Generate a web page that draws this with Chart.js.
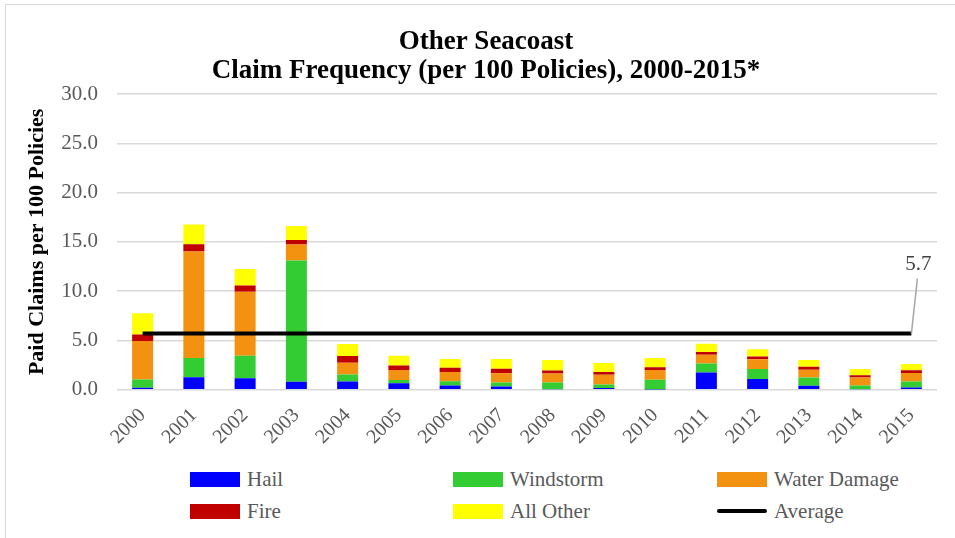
<!DOCTYPE html>
<html lang="en">
<head>
  <meta charset="UTF-8" />
  <title>Other Seacoast Claim Frequency</title>
  <style>
    body {
      margin: 0;
      background: #fff;
      font-family: "Liberation Serif", "Times New Roman", serif;
    }

    .frame {
      position: absolute;
      left: 5px;
      top: 4px;
      width: 960px;
      height: 545px;
      border: 1px solid #d9d9d9;
    }

    .chart-box {
      position: absolute;
      left: 0;
      top: 0;
      width: 955px;
      height: 455px;
    }

    #legend {
      position: absolute;
      left: 190px;
      top: 468px;
      display: grid;
      grid-template-columns: 263px 264px 200px;
      row-gap: 10px;
      color: #595959;
      font-size: 21px;
    }

    .item {
      display: flex;
      align-items: center;
      height: 22px;
    }

    .swatch {
      width: 50px;
      height: 15px;
      margin-right: 7px;
    }

    .swatch.line {
      height: 4px;
      border-radius: 2px;
    }
  </style>
  <script src="https://cdn.jsdelivr.net/npm/chart.js"></script>
</head>
<body>
  <div class="frame"></div>
  <div class="chart-box"><canvas id="chart"></canvas></div>
  <div id="legend"></div>

  <script>
    const years = ['2000', '2001', '2002', '2003', '2004', '2005', '2006', '2007',
                   '2008', '2009', '2010', '2011', '2012', '2013', '2014', '2015'];
    const hail = [0.2, 1.28, 1.17, 0.8, 0.84, 0.67, 0.44, 0.34, 0.05, 0.17, 0.02, 1.74, 1.1, 0.4, 0.05, 0.23];
    const windstorm = [0.85, 1.94, 2.29, 12.3, 0.7, 0.33, 0.43, 0.4, 0.69, 0.37, 0.99, 0.91, 1.01, 0.84, 0.39, 0.61];
    const waterDamage = [3.9, 10.8, 6.47, 1.64, 1.21, 1.0, 0.94, 0.94, 0.9, 0.97, 1.0, 0.91, 0.98, 0.8, 0.8, 0.87];
    const fire = [0.65, 0.74, 0.64, 0.46, 0.67, 0.45, 0.41, 0.44, 0.31, 0.3, 0.27, 0.27, 0.27, 0.28, 0.24, 0.27];
    const allOther = [2.15, 2.0, 1.68, 1.4, 1.21, 1.0, 0.9, 1.0, 1.07, 0.91, 0.94, 0.83, 0.74, 0.7, 0.63, 0.64];
    const averageValue = 5.7;
    const average = years.map(() => averageValue);

    const yTicks = { min: 0, max: 30, step: 5 };
    const serif = '"Liberation Serif", "Times New Roman", serif';

    function bar(label, data, color) {
      return {
        type: 'bar', label: label, data: data, backgroundColor: color,
        stack: 'claims', order: 1, barPercentage: 0.41, categoryPercentage: 1
      };
    }

    // label "5.7" with leader line at the last point of the average line
    const avgLabel = {
      id: 'avgLabel',
      afterDatasetsDraw(chart) {
        const meta = chart.getDatasetMeta(5);
        const pt = meta.data[meta.data.length - 1];
        const ctx = chart.ctx;
        ctx.save();
        ctx.strokeStyle = '#a6a6a6';
        ctx.lineWidth = 1.5;
        ctx.beginPath();
        ctx.moveTo(pt.x, pt.y);
        ctx.lineTo(pt.x + 6, pt.y - 55);
        ctx.stroke();
        ctx.fillStyle = '#404040';
        ctx.font = '21px ' + serif;
        ctx.textAlign = 'center';
        ctx.textBaseline = 'middle';
        ctx.fillText(averageValue.toFixed(1), pt.x + 7, pt.y - 69);
        ctx.restore();
      }
    };

    const ctx = document.getElementById('chart').getContext('2d');
    const chart = new Chart(ctx, {
      data: {
        labels: years,
        datasets: [
          bar('Hail', hail, '#0000ff'),
          bar('Windstorm', windstorm, '#33cc33'),
          bar('Water Damage', waterDamage, '#f39110'),
          bar('Fire', fire, '#c00000'),
          bar('All Other', allOther, '#ffff00'),
          {
            type: 'line', label: 'Average', data: average, borderColor: '#000',
            borderWidth: 4, pointRadius: 0, stack: 'avg', order: 0, fill: false
          }
        ]
      },
      options: {
        responsive: true,
        maintainAspectRatio: false,
        animation: false,
        layout: { padding: { left: 35, right: 18, top: 0, bottom: 0 } },
        plugins: {
          legend: { display: false },
          tooltip: { enabled: false },
          title: {
            display: true,
            text: ['Other Seacoast', 'Claim Frequency (per 100 Policies), 2000-2015*'],
            color: '#000',
            font: { family: serif, size: 27, weight: 'bold', lineHeight: 1.074 },
            padding: { top: 28, bottom: 8 }
          }
        },
        scales: {
          x: {
            stacked: true,
            grid: { display: false },
            border: { display: false },
            ticks: {
              color: '#595959', minRotation: 45, maxRotation: 45, padding: 6,
              font: { family: serif, size: 20 }
            }
          },
          y: {
            stacked: true,
            min: yTicks.min,
            max: yTicks.max,
            afterFit(scale) { scale.width = 82; },
            border: { display: false },
            grid: { color: '#d9d9d9', lineWidth: 1.5, drawTicks: false },
            ticks: {
              stepSize: yTicks.step, color: '#595959', padding: 19,
              font: { family: serif, size: 21 },
              callback: v => v.toFixed(1)
            },
            title: {
              display: true,
              text: 'Paid Claims per 100 Policies',
              color: '#000',
              font: { family: serif, size: 22, weight: 'bold' },
              padding: { top: -11, bottom: 0 }
            }
          }
        }
      },
      plugins: [avgLabel]
    });

    // legend in three columns, built from the datasets
    const legend = document.getElementById('legend');
    chart.data.datasets.forEach(ds => {
      const item = document.createElement('div');
      item.className = 'item';
      const sw = document.createElement('span');
      sw.className = ds.type === 'line' ? 'swatch line' : 'swatch';
      sw.style.background = ds.type === 'line' ? ds.borderColor : ds.backgroundColor;
      item.appendChild(sw);
      item.appendChild(document.createTextNode(ds.label));
      legend.appendChild(item);
    });
  </script>
</body>
</html>
